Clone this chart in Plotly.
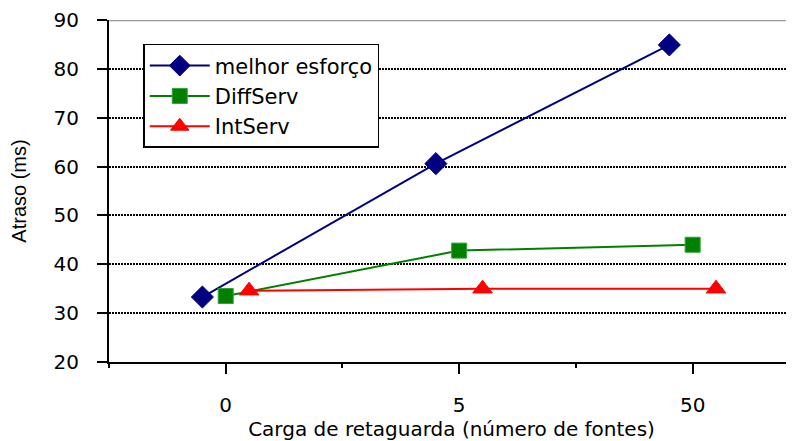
import plotly.graph_objects as go

categories = ["0", "5", "50"]
melhor_esforco = [33.3, 60.6, 84.9]
diffserv = [33.5, 42.8, 44.0]
intserv = [34.6, 35.0, 35.0]
y_ticks = [20, 30, 40, 50, 60, 70, 80, 90]

x_idx = list(range(len(categories)))

FONT = "DejaVu Sans, Arial, sans-serif"
FONT_Y = "Liberation Sans, Arial, sans-serif"

fig = go.Figure()
series = [
    ("melhor esforço", melhor_esforco, "#000080", "diamond", 17, "#000080"),
    ("DiffServ", diffserv, "#008000", "square", 15, "#33a033"),
    ("IntServ", intserv, "#FF0000", "triangle-up", 17, "#FF0000"),
]
for name, vals, color, sym, size, edge in series:
    fig.add_trace(go.Scatter(
        x=x_idx, y=vals, name=name, mode="lines+markers",
        line=dict(color=color, width=2),
        marker=dict(symbol=sym, size=size, color=color, line=dict(color=edge, width=1)),
        offsetgroup=name,
    ))

# the page body has an 8px margin, so the figure is sized to the visible area
fig.update_layout(
    width=786, height=433,
    margin=dict(l=101, r=0, t=12, b=79),
    paper_bgcolor="white", plot_bgcolor="white",
    scattermode="group", scattergap=0.7,
    font=dict(family=FONT, size=20, color="black"),
    showlegend=True,
    legend=dict(
        x=0.05, y=0.93, xanchor="left", yanchor="top",
        bgcolor="white", bordercolor="black", borderwidth=1.5,
        font=dict(size=21, family=FONT),
        tracegroupgap=0, itemwidth=60,
    ),
)

fig.update_xaxes(
    range=[-0.5, 2.434], automargin=False,
    tickmode="array", tickvals=x_idx, ticktext=categories,
    ticks="outside", ticklen=10, tickwidth=1.5, tickcolor="black",
    ticklabelstandoff=14,
    minor=dict(tick0=0.5, dtick=1, ticks="outside", ticklen=4, tickwidth=1.5, tickcolor="black", showgrid=False),
    showline=True, linecolor="black", linewidth=2,
    showgrid=False, zeroline=False,
    tickfont=dict(size=20, family=FONT),
    title=dict(text="Carga de retaguarda (número de fontes)", font=dict(size=20, family=FONT), standoff=15),
)

fig.update_yaxes(
    range=[20, 90], automargin=False,
    tickmode="array", tickvals=y_ticks,
    ticks="outside", ticklen=10, tickwidth=1.5, tickcolor="black",
    ticklabelstandoff=14,
    showline=True, linecolor="black", linewidth=2,
    showgrid=True, gridcolor="black", gridwidth=2, griddash="2px,1px",
    zeroline=False,
    tickfont=dict(size=20, family=FONT),
    title=dict(text="Atraso (ms)", font=dict(size=20, family=FONT_Y), standoff=24),
)

fig.add_shape(type="line", xref="paper", yref="y", x0=0, x1=1, y0=y_ticks[-1], y1=y_ticks[-1],
              line=dict(color="#999999", width=2.5), layer="above")

fig.write_html("out.html")
